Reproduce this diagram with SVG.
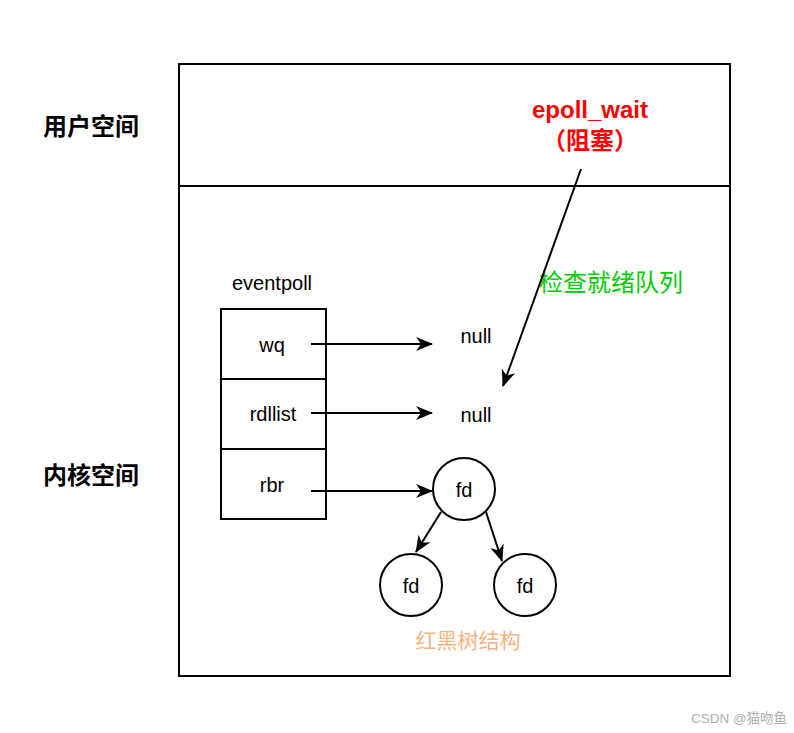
<svg xmlns="http://www.w3.org/2000/svg" width="794" height="733" viewBox="0 0 794 733">
<style>
.t{font-family:"Liberation Sans",Arial,"Noto Sans CJK SC",sans-serif;font-size:20px;fill:#000;text-anchor:middle}
.b{font-family:"Liberation Sans",Arial,"Noto Sans CJK SC",sans-serif;font-size:24px;font-weight:bold;text-anchor:middle}
.s{fill:#fff;stroke:#000;stroke-width:2}
.c{stroke:#000;stroke-width:2;fill:none;marker-end:url(#a2)}
</style>
<defs>
<marker id="a2" viewBox="0 0 18 18" refX="16" refY="9" markerWidth="18" markerHeight="18" markerUnits="userSpaceOnUse" orient="auto">
<path d="M0,2 L17,9 L0,16 L5,9 Z" fill="#000"/>
</marker>
</defs>
<rect width="794" height="733" fill="#fff"/>
<g id="frame">
<rect x="179" y="64" width="551" height="612" fill="none" stroke="#000" stroke-width="2"/>
<line x1="179" y1="186" x2="730" y2="186" stroke="#000" stroke-width="2"/>
</g>
<g id="labels">
<text class="b" x="91" y="135" fill="#000">用户空间</text>
<text class="b" x="91" y="484" fill="#000">内核空间</text>
<text class="b" x="590" y="118" fill="#ff0000">epoll_wait</text>
<text class="b" x="590" y="149" fill="#ff0000">（阻塞）</text>
<text class="t" x="611" y="291" style="font-size:24px;fill:#00cc00">检查就绪队列</text>
<text class="t" x="272" y="290">eventpoll</text>
<text class="t" x="476" y="343">null</text>
<text class="t" x="476" y="422">null</text>
<text class="t" x="468" y="648" style="font-size:21px;fill:#f8b382">红黑树结构</text>
<text x="739" y="723" style="font-family:'Liberation Sans','Noto Sans CJK SC',sans-serif;font-size:13.5px;fill:#b0b0b0;text-anchor:middle">CSDN @猫吻鱼</text>
</g>
<g id="eventpoll">
<rect class="s" x="221" y="309" width="105" height="70"/>
<text class="t" x="272" y="352">wq</text>
</g>
<g id="rdllist">
<rect class="s" x="221" y="379" width="105" height="70"/>
<text class="t" x="273" y="421">rdllist</text>
</g>
<g id="rbr">
<rect class="s" x="221" y="449" width="105" height="70"/>
<text class="t" x="272" y="492">rbr</text>
</g>
<g id="fd-root">
<circle class="s" cx="464" cy="489" r="31"/>
<text class="t" x="464" y="497">fd</text>
</g>
<g id="fd-left">
<circle class="s" cx="411" cy="585" r="31"/>
<text class="t" x="411" y="593">fd</text>
</g>
<g id="fd-right">
<circle class="s" cx="525" cy="585" r="31"/>
<text class="t" x="525" y="593">fd</text>
</g>
<g id="connectors">
<line class="c" x1="311" y1="344" x2="432" y2="344"/>
<line class="c" x1="311" y1="413" x2="432" y2="413"/>
<line class="c" x1="311" y1="491" x2="432" y2="491"/>
<line class="c" x1="581" y1="169" x2="503" y2="386"/>
<line class="c" x1="441" y1="512" x2="416" y2="552"/>
<line class="c" x1="486" y1="512" x2="502" y2="561"/>
</g>
</svg>
